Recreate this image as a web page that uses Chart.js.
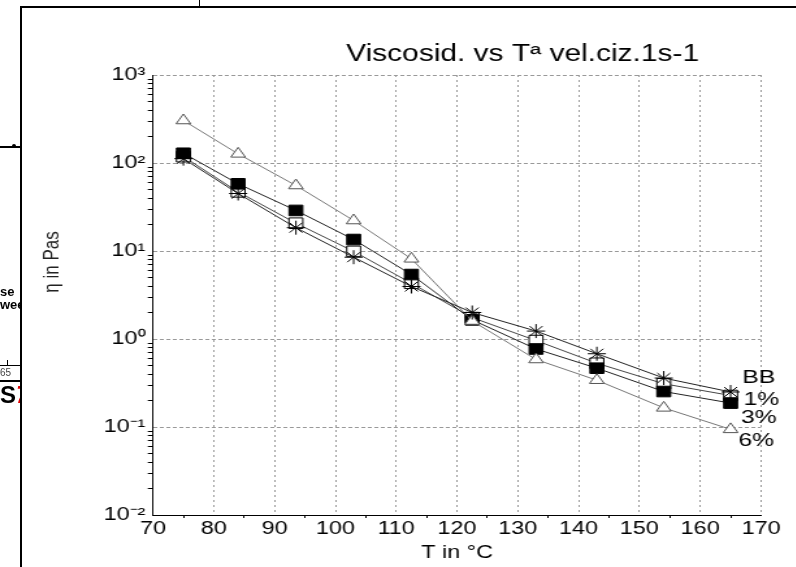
<!DOCTYPE html>
<html>
<head>
<meta charset="utf-8">
<script src="https://cdn.jsdelivr.net/npm/chart.js@4/dist/chart.umd.min.js"></script>
<style>
body { margin: 0; background: #fff; }
#wrap { position: absolute; left: 0; top: 0; width: 612px; height: 567px; transform: scaleX(1.3); transform-origin: 0 0; }
#frame { position: absolute; left: 20px; top: 6px; width: 800px; height: 600px; border-left: 2px solid #000; border-top: 2px solid #000; }
#side { position: absolute; left: 0; top: 0; width: 20px; height: 567px; overflow: hidden; font-family: "Liberation Sans", Arial, sans-serif; }
#side div { position: absolute; }
.ln { left: 0; width: 20px; background: #000; }
.txt { left: 0; font-weight: bold; font-size: 13px; white-space: nowrap; }
</style>
</head>
<body>
<div id="wrap"><canvas id="chartId" width="612" height="567"></canvas></div>
<div id="frame"></div>
<div style="position:absolute;left:199px;top:0;width:1px;height:7px;background:#000"></div>
<div id="side">
  <div class="ln" style="top:146px;height:2px"></div>
  <div style="left:12px;top:144px;width:4px;height:2px;border-top:2px solid #000;border-radius:2px"></div>
  <div class="txt" style="top:284px">se</div>
  <div class="txt" style="top:297px">wee</div>
  <div class="ln" style="top:365px;height:1px"></div>
  <div style="left:7px;top:360px;width:1px;height:5px;background:#000"></div>
  <div style="left:0;top:367px;font-size:10px;color:#444">65</div>
  <div class="ln" style="top:380px;height:2px"></div>
  <div style="left:0;top:381px;font-weight:bold;font-size:24px;white-space:nowrap">S<span style="color:#e00000;font-style:italic">7</span></div>
</div>
<script>
// temperature (°C) and viscosity (Pa·s)
const temps = [75, 84, 93.5, 103, 112.5, 122.5, 133, 143, 154, 165];
const bbValues = [112, 45, 18.4, 8.5, 3.95, 2.0, 1.23, 0.68, 0.36, 0.25];
const p1Values = [118, 47, 20.7, 9.9, 4.3, 1.75, 0.96, 0.53, 0.31, 0.228];
const p3Values = [129, 58, 28.9, 13.5, 5.4, 1.65, 0.77, 0.466, 0.253, 0.187];
const p6Values = [304, 127, 55.5, 22.2, 8.15, 1.6, 0.585, 0.34, 0.165, 0.094];
const seriesNames = ['BB', '1%', '3%', '6%'];
const yTickLabels = { '-2': '10⁻²', '-1': '10⁻¹', '0': '10⁰', '1': '10¹', '2': '10²', '3': '10³' };
const chartTitle = 'Viscosid. vs Tª vel.ciz.1s-1';
const yTitle = 'η in Pas';
const xTitle = 'T in °C';

const FONT = '"Liberation Sans", Arial, sans-serif';

function toPoints(values) {
    return values.map((v, i) => ({ x: temps[i], y: v }));
}

function exponent(v) {
    return Math.round(Math.log10(v));
}

function isDecade(v) {
    return Math.abs(Math.log10(v) - exponent(v)) < 1e-6;
}

function mantissa(v) {
    return v / Math.pow(10, Math.floor(Math.log10(v) + 1e-9));
}

// end-of-line labels, offset (px) from each series' last point
const labelOffsets = [[9, -14], [10, 4], [8, 15], [6, 11]];

const textPlugin = {
    id: 'extraText',
    afterDraw(chart) {
        const ctx = chart.ctx;
        ctx.save();
        ctx.fillStyle = '#000';
        ctx.textBaseline = 'middle';
        ctx.textAlign = 'center';
        ctx.font = '23px ' + FONT;
        ctx.fillText(chartTitle, 402, 55);

        ctx.textAlign = 'left';
        ctx.font = '19px ' + FONT;
        chart.data.datasets.forEach((ds, i) => {
            const meta = chart.getDatasetMeta(i);
            const pt = meta.data[meta.data.length - 1];
            ctx.fillText(ds.label, pt.x + labelOffsets[i][0], pt.y + labelOffsets[i][1]);
        });

        ctx.translate(40, 262);
        ctx.rotate(-Math.PI / 2);
        ctx.textAlign = 'center';
        ctx.font = '17px ' + FONT;
        ctx.fillStyle = '#222';
        ctx.fillText(yTitle, 0, 0);
        ctx.restore();
    }
};

var chrt = document.getElementById('chartId').getContext('2d');
var chartId = new Chart(chrt, {
    type: 'line',
    data: {
        datasets: [{
            label: seriesNames[0],
            data: toPoints(bbValues),
            borderColor: '#222',
            borderWidth: 1,
            pointStyle: 'star',
            pointRadius: 7,
            pointBorderColor: '#000',
            pointBackgroundColor: 'transparent',
            pointBorderWidth: 1,
            order: 1,
        }, {
            label: seriesNames[1],
            data: toPoints(p1Values),
            borderColor: '#444',
            borderWidth: 1,
            pointStyle: 'rect',
            pointRadius: 7.5,
            pointBorderColor: '#000',
            pointBackgroundColor: '#fff',
            pointBorderWidth: 1,
            order: 4,
        }, {
            label: seriesNames[2],
            data: toPoints(p3Values),
            borderColor: '#222',
            borderWidth: 1,
            pointStyle: 'rect',
            pointRadius: 7.5,
            pointBorderColor: '#000',
            pointBackgroundColor: '#000',
            pointBorderWidth: 1,
            order: 3,
        }, {
            label: seriesNames[3],
            data: toPoints(p6Values),
            borderColor: '#777',
            borderWidth: 1,
            pointStyle: 'triangle',
            pointRadius: 6.5,
            pointBorderColor: '#555',
            pointBackgroundColor: '#fff',
            pointBorderWidth: 1,
            order: 2,
        }],
    },
    options: {
        responsive: false,
        animation: false,
        layout: { padding: { left: 0, top: 75, right: 26.6, bottom: 0 } },
        plugins: {
            legend: { display: false },
            tooltip: { enabled: false },
            title: { display: false },
        },
        scales: {
            x: {
                type: 'linear',
                min: 70,
                max: 170,
                afterFit: (scale) => { scale.height = 52; },
                ticks: {
                    stepSize: 5,
                    autoSkip: false,
                    maxRotation: 0,
                    padding: 0,
                    color: '#000',
                    font: { family: FONT, size: 18 },
                    callback: (v) => (v % 10 === 0 ? String(v) : ''),
                },
                grid: {
                    color: (c) => (c.tick && c.tick.value % 10 === 0 ? '#999' : 'transparent'),
                    tickColor: (c) => (c.tick && c.tick.value % 10 === 0 ? 'transparent' : '#000'),
                    tickLength: 3,
                    lineWidth: 1,
                },
                border: { color: '#000', width: 1, dash: [2, 3] },
                title: {
                    display: true,
                    text: xTitle,
                    color: '#000',
                    font: { family: FONT, size: 18 },
                    padding: { top: 0, bottom: 3 },
                },
            },
            y: {
                type: 'logarithmic',
                min: 0.01,
                max: 1000,
                afterFit: (scale) => { scale.width = 117.7; },
                ticks: {
                    autoSkip: false,
                    padding: 2,
                    color: '#000',
                    font: { family: FONT, size: 18 },
                    callback: (v) => (isDecade(v) ? yTickLabels[String(exponent(v))] : ''),
                },
                grid: {
                    color: (c) => (c.tick && isDecade(c.tick.value) ? '#999' : 'transparent'),
                    tickColor: (c) => (c.tick && !isDecade(c.tick.value) && Math.abs(mantissa(c.tick.value) - 1.5) > 0.01 ? '#000' : 'transparent'),
                    tickLength: 4,
                    lineWidth: 1,
                },
                border: { color: '#000', width: 1, dash: [3, 2] },
            },
        },
    },
    plugins: [textPlugin],
});
</script>
</body>
</html>
